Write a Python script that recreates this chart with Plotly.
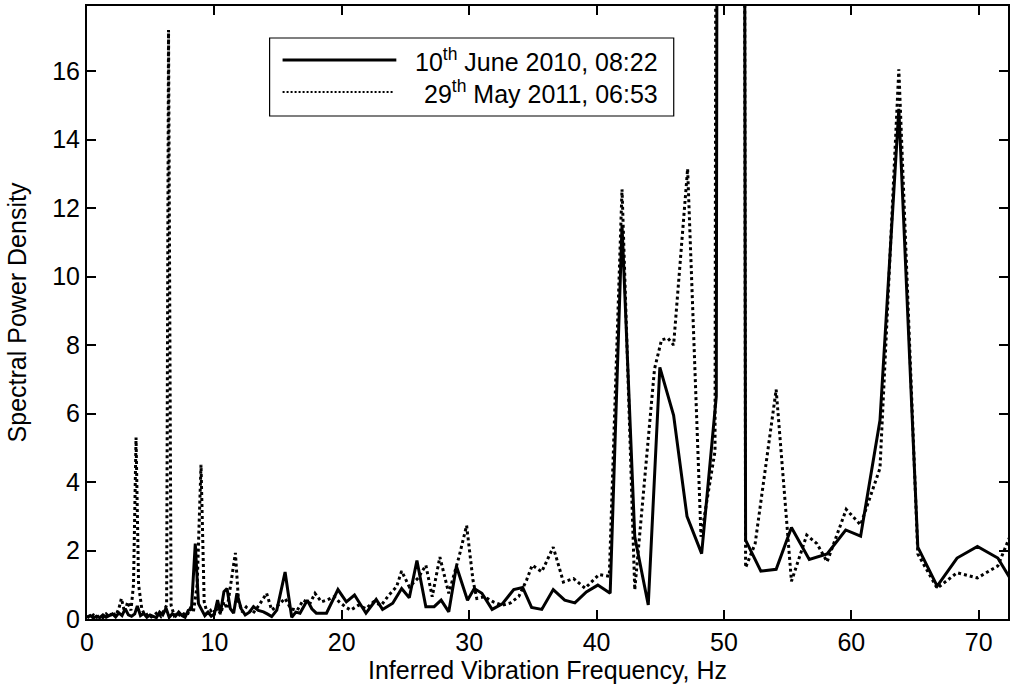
import plotly.graph_objects as go

# ---- data ----
freq_2010 = [0.0, 0.25, 0.5, 0.75, 1.0, 1.25, 1.5, 1.75, 2.0, 2.25, 2.5, 2.75, 3.0, 3.25, 3.5, 3.75, 3.95,
             4.2, 4.45, 4.7, 4.95, 5.2, 5.45, 5.7, 5.95, 6.2, 6.45, 6.7, 6.95, 7.2, 7.45, 7.7, 7.95, 8.2,
             8.5, 8.75, 9.0, 9.25, 9.5, 9.75, 10.0, 10.25, 10.47, 10.75, 10.99, 11.25, 11.51, 11.77, 12.1,
             12.42, 12.75, 13.07, 13.45, 13.85, 14.15, 14.5, 14.9, 15.55, 16.07, 16.4, 16.72, 17.29, 17.65,
             18.0, 18.8, 19.7, 20.36, 21.0, 21.9, 22.7, 23.2, 24.0, 24.7, 25.3, 25.9, 26.6, 27.25, 27.8,
             28.4, 29.0, 29.87, 30.4, 31.0, 31.8, 32.6, 33.5, 34.2, 34.9, 35.7, 36.6, 37.5, 38.3, 39.2,
             40.1, 41.07, 42.0, 43.0, 44.06, 44.97, 46.05, 47.1, 48.25, 49.4, 50.5, 51.7, 52.9, 54.1,
             55.3, 56.7, 58.1, 59.56, 60.73, 62.25, 63.73, 65.22, 66.74, 68.3, 69.9, 71.5, 73.1]
psd_2010 = [0.05, 0.1, 0.03, 0.08, 0.04, 0.12, 0.05, 0.1, 0.15, 0.06, 0.18, 0.1, 0.3, 0.12, 0.08, 0.15, 0.38,
            0.1, 0.16, 0.05, 0.12, 0.08, 0.04, 0.2, 0.12, 0.32, 0.05, 0.15, 0.08, 0.2, 0.1, 0.05, 0.25, 0.3,
            2.2, 0.45, 0.25, 0.1, 0.2, 0.08, 0.15, 0.55, 0.17, 0.8, 0.89, 0.3, 0.17, 0.75, 0.3,
            0.12, 0.2, 0.36, 0.25, 0.21, 0.15, 0.07, 0.26, 1.37, 0.05, 0.2, 0.17, 0.55, 0.3,
            0.17, 0.17, 0.86, 0.5, 0.7, 0.17, 0.57, 0.28, 0.46, 0.89, 0.62, 1.71, 0.36, 0.36, 0.55,
            0.21, 1.54, 0.55, 0.89, 0.75, 0.28, 0.44, 0.86, 0.92, 0.34, 0.28, 0.86, 0.55, 0.47, 0.79,
            0.99, 0.75, 11.5, 2.4, 0.41, 7.35, 5.95, 3.0, 1.91, 6.5, 300.0, 2.3, 1.4, 1.45,
            2.67, 1.74, 1.9, 2.6, 2.42, 5.8, 14.9, 2.1, 0.96, 1.78, 2.12, 1.78, 0.8]

freq_2011 = [0.0, 0.25, 0.5, 0.75, 1.0, 1.25, 1.5, 1.75, 2.0, 2.25, 2.5, 2.7, 2.95, 3.2, 3.45, 3.65, 3.85,
             4.05, 4.3, 4.55, 4.8, 5.05, 5.3, 5.55, 5.8, 6.05, 6.25, 6.4, 6.6, 6.85, 7.1, 7.35, 7.6, 7.85,
             8.1, 8.35, 8.65, 8.95, 9.2, 9.45, 9.7, 9.95, 10.2, 10.5, 10.75, 11.0, 11.3, 11.65, 11.9, 12.2,
             12.5, 13.0, 13.5, 14.1, 14.5, 15.0, 15.55, 16.0, 16.5, 16.97, 17.5, 17.9, 18.4, 18.8, 19.4,
             19.8, 20.3, 20.7, 21.3, 21.9, 22.5, 23.1, 23.7, 24.3, 24.7, 25.3, 26.0, 26.6, 27.1, 27.7,
             28.4, 29.2, 29.8, 30.3, 30.6, 31.2, 31.9, 32.6, 33.25, 33.9, 34.5, 34.95, 35.7, 36.6, 37.4,
             38.2, 39.1, 40.2, 41.0, 42.0, 43.0, 44.55, 45.1, 45.6, 46.05, 47.15, 48.2, 49.3, 50.5, 51.7,
             52.45, 54.1, 55.3, 56.5, 57.3, 58.1, 59.6, 60.73, 62.25, 63.73, 65.22, 66.74, 68.3, 69.9,
             71.5, 73.1]
psd_2011 = [0.08, 0.03, 0.12, 0.05, 0.1, 0.04, 0.15, 0.06, 0.2, 0.1, 0.3, 0.6, 0.2, 0.5, 0.25, 1.0, 5.3,
            1.0, 0.3, 0.1, 0.15, 0.06, 0.12, 0.2, 0.08, 0.25, 0.4, 17.2, 0.4, 0.1, 0.18, 0.08, 0.15, 0.1,
            0.3, 0.2, 1.0, 4.5, 0.5, 0.15, 0.25, 0.1, 0.3, 0.15, 0.5, 0.3, 1.1, 1.93, 0.5, 0.2,
            0.35, 0.15, 0.4, 0.75, 0.26, 0.4, 0.6, 0.3, 0.25, 0.55, 0.45, 0.75, 0.5, 0.55, 0.65,
            0.5, 0.35, 0.26, 0.4, 0.3, 0.5, 0.4, 0.7, 0.94, 1.4, 0.94, 1.2, 1.57, 0.65, 1.81,
            0.75, 1.81, 2.73, 1.13, 0.6, 0.65, 0.5, 0.4, 0.47, 0.66, 1.13, 1.57, 1.38, 2.1, 1.08,
            1.18, 0.9, 1.3, 1.25, 12.55, 0.85, 7.3, 8.15, 8.2, 8.0, 13.15, 2.4, 4.9, 300.0, 1.5,
            2.2, 6.7, 1.1, 2.45, 2.2, 1.67, 3.2, 2.75, 4.4, 16.05, 1.9, 0.9, 1.35, 1.2,
            1.55, 3.0]

series_names = ["10<sup>th</sup> June 2010, 08:22", "29<sup>th</sup> May 2011, 06:53"]
x_ticks = [0, 10, 20, 30, 40, 50, 60, 70]
y_ticks = [0, 2, 4, 6, 8, 10, 12, 14, 16]

FONT = "Liberation Sans, Arial, sans-serif"
FS = 25

fig = go.Figure()
fig.add_trace(go.Scatter(x=freq_2010, y=psd_2010, mode="lines", name=series_names[0],
                         line=dict(color="black", width=3), showlegend=False))
fig.add_trace(go.Scatter(x=freq_2011, y=psd_2011, mode="lines", name=series_names[1],
                         line=dict(color="black", width=3, dash="3px,3px"), showlegend=False))

# manual MATLAB-style legend
L, T, W, H = 87, 6, 923, 613
def px(x): return (x - L) / W
def py(y): return (T + H - y) / H

fig.add_shape(type="rect", xref="paper", yref="paper", x0=px(270), x1=px(675), y0=py(116), y1=py(38),
              line=dict(color="black", width=1.2), fillcolor="white")
fig.add_shape(type="line", xref="paper", yref="paper", x0=px(283), x1=px(397), y0=py(60), y1=py(60),
              line=dict(color="black", width=3))
fig.add_shape(type="line", xref="paper", yref="paper", x0=px(283), x1=px(395), y0=py(92), y1=py(92),
              line=dict(color="black", width=2, dash="2px,2px"))
for name, yy in zip(series_names, [60, 92]):
    fig.add_annotation(text=name, xref="paper", yref="paper", x=px(661), y=py(yy), xanchor="right",
                       yanchor="middle", showarrow=False, font=dict(family=FONT, size=FS, color="black"))

axis_common = dict(showgrid=False, zeroline=False, showline=True, linecolor="black", linewidth=2,
                   mirror="ticks", ticks="inside", ticklen=9, tickwidth=1.5, tickcolor="black",
                   tickfont=dict(family=FONT, size=FS, color="black"))
fig.update_xaxes(range=[0, 72.3], tickvals=x_ticks,
                 title=dict(text="Inferred Vibration Frequency, Hz", font=dict(family=FONT, size=FS, color="black"), standoff=6),
                 **axis_common)
fig.update_yaxes(range=[0, 17.9], tickvals=y_ticks,
                 title=dict(text="Spectral Power Density", font=dict(family=FONT, size=FS, color="black"), standoff=18),
                 **axis_common)
fig.update_layout(width=1012, height=692, margin=dict(l=L, r=1012 - L - W, t=T, b=692 - T - H),
                  plot_bgcolor="white", paper_bgcolor="white", font=dict(family=FONT, size=FS, color="black"))
fig.write_html("out.html")
